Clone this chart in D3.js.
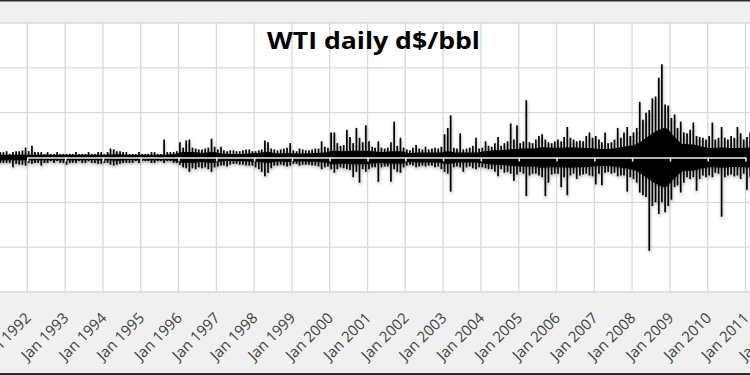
<!DOCTYPE html>
<meta charset="utf-8">
<style>
  body {
    margin: 0;
    font-family: "Open Sans", sans-serif;
  }
  .grid line {
    stroke: #d9d9d9;
    stroke-width: 1.3px;
  }
  .zero .domain, .zero .tick line {
    stroke: #f2f2f2;
    stroke-width: 1.5px;
  }
  .labels .domain, .labels .tick line {
    display: none;
  }
  .labels text {
    font-family: "Open Sans", sans-serif;
    font-size: 15px;
    fill: #404040;
  }
  .title {
    font-family: "Open Sans", sans-serif;
    font-size: 24px;
    font-weight: bold;
    fill: #000;
  }
  .move {
    stroke: #000;
    stroke-width: 1.7px;
  }
  .core {
    fill: #000;
  }
</style>
<body>
<div id="chart"></div>
<script src="https://d3js.org/d3.v7.min.js"></script>
<script>
// biggest up move of each month, $/bbl (Jan 1991 .. Mar 2011), one row per year
var upMoves = [
  2.2,1.7,0.9,0.6,0.6,0.7,0.4,0.6,0.7,0.7,0.8,1.1,   // 1991
  0.7,1.3,0.6,0.6,0.6,0.4,0.6,0.4,0.4,0.6,0.4,0.4,   // 1992
  0.4,0.4,0.4,0.6,0.4,0.4,0.4,0.6,0.4,0.4,0.6,0.6,   // 1993
  0.4,0.6,1.0,0.9,0.7,0.7,0.6,0.6,0.4,0.4,0.4,0.6,   // 1994
  0.4,0.4,0.4,0.6,0.6,0.4,0.4,2.0,0.6,0.6,0.6,0.7,   // 1995
  1.7,1.1,1.9,2.0,1.1,1.0,0.9,0.9,1.0,1.1,2.1,1.2,   // 1996
  0.9,1.2,0.8,0.7,0.8,0.8,0.7,0.7,0.8,0.9,0.9,0.7,   // 1997
  0.7,0.8,0.9,1.9,1.7,1.0,0.9,0.8,0.9,1.0,1.1,1.6,   // 1998
  0.8,0.7,1.0,0.9,0.8,0.8,0.9,1.0,1.0,1.8,1.2,1.1,   // 1999
  2.8,2.8,1.6,1.3,1.4,3.1,2.3,1.6,3.3,2.2,1.7,3.6,   // 2000
  1.8,1.2,1.1,1.8,1.1,1.0,1.1,1.7,4.0,1.3,2.2,1.1,   // 2001
  0.9,0.8,1.1,1.4,1.0,0.9,1.2,0.9,1.0,1.1,1.0,1.2,   // 2002
  2.6,3.3,4.7,1.1,1.0,2.7,0.9,1.0,1.1,1.3,2.2,1.0,   // 2003
  1.1,1.8,1.3,1.2,1.6,2.3,1.3,1.6,1.8,3.8,2.0,3.6,   // 2004
  1.6,1.8,6.4,1.7,1.6,2.0,2.4,2.6,2.0,1.7,1.6,1.8,   // 2005
  2.0,1.8,2.3,3.4,2.2,2.0,1.8,1.9,1.8,2.4,2.8,2.2,   // 2006
  2.4,2.0,1.7,2.8,1.6,1.7,2.0,3.3,2.2,2.8,3.4,2.4,   // 2007
  2.8,3.3,6.2,4.2,5.0,5.3,6.6,6.8,8.9,10.4,5.9,5.8,  // 2008
  4.4,4.8,3.3,4.0,2.8,2.7,3.1,3.9,2.4,2.3,2.2,2.0,   // 2009
  2.4,3.9,2.0,2.2,3.4,2.2,2.0,2.4,2.2,3.4,2.7,2.0,   // 2010
  2.3,2.8,3.3                                        // 2011
];

// biggest down move of each month, $/bbl
var downMoves = [
  -9.0,-2.2,-1.1,-0.6,-0.6,-0.6,-0.6,-1.1,-0.7,-0.8,-0.8,-0.9,  // 1991
  -0.6,-0.7,-0.6,-0.6,-0.9,-0.6,-0.6,-0.4,-0.6,-0.4,-0.6,-0.6,  // 1992
  -0.8,-0.6,-0.6,-0.6,-0.4,-0.6,-0.6,-0.4,-0.6,-0.6,-0.7,-0.7,  // 1993
  -0.6,-0.6,-0.8,-0.9,-0.8,-0.7,-0.6,-0.6,-0.6,-0.6,-0.4,-0.6,  // 1994
  -0.4,-0.4,-0.4,-0.6,-0.6,-0.4,-0.4,-0.6,-0.4,-0.4,-0.6,-0.6,  // 1995
  -0.8,-1.1,-1.2,-1.6,-1.2,-1.3,-1.1,-1.2,-1.1,-1.3,-1.6,-1.1,  // 1996
  -1.0,-0.9,-0.9,-1.0,-0.8,-0.7,-0.7,-0.8,-0.8,-0.9,-0.9,-0.9,  // 1997
  -1.1,-1.3,-1.6,-2.1,-1.7,-1.2,-0.9,-0.9,-0.8,-0.9,-1.0,-0.9,  // 1998
  -0.7,-0.7,-0.9,-0.8,-0.8,-0.8,-0.9,-0.9,-1.0,-1.3,-1.1,-1.0,  // 1999
  -1.3,-1.7,-1.3,-1.1,-1.2,-1.3,-1.4,-2.2,-1.6,-2.8,-1.3,-1.6,  // 2000
  -1.3,-1.1,-1.1,-2.7,-1.1,-1.0,-1.0,-2.7,-1.3,-1.6,-1.7,-1.1,  // 2001
  -0.9,-0.8,-0.9,-1.1,-1.0,-0.9,-1.0,-0.9,-0.9,-1.1,-1.0,-1.3,  // 2002
  -1.6,-1.8,-3.8,-1.1,-1.0,-1.1,-1.6,-1.1,-1.0,-1.2,-1.3,-1.1,  // 2003
  -1.1,-1.2,-1.3,-1.3,-1.6,-2.1,-1.3,-1.7,-1.6,-1.8,-2.6,-1.9,  // 2004
  -1.6,-1.8,-4.3,-2.0,-1.8,-1.8,-2.0,-2.2,-4.3,-2.8,-1.9,-1.8,  // 2005
  -1.8,-3.3,-2.2,-4.2,-2.0,-1.8,-2.4,-2.0,-1.9,-1.8,-2.0,-2.1,  // 2006
  -3.0,-1.8,-3.1,-1.7,-1.6,-1.8,-1.7,-2.1,-2.0,-2.0,-3.8,-2.2,  // 2007
  -2.4,-2.8,-3.9,-4.2,-4.4,-10.4,-5.4,-5.0,-6.3,-5.0,-6.1,-5.4, // 2008
  -4.7,-3.3,-3.1,-3.9,-2.8,-2.2,-2.4,-2.2,-3.7,-2.4,-2.0,-2.2,  // 2009
  -2.0,-2.2,-1.7,-1.8,-6.6,-2.2,-2.0,-1.9,-2.1,-2.0,-2.4,-1.8,  // 2010
  -3.6,-2.2,-3.3                                               // 2011
];

// typical size of a daily move in each quarter (the dense black band), $/bbl
var typicalMove = [
  0.5,0.3,0.3,0.3,  // 1991
  0.3,0.3,0.3,0.3,  // 1992
  0.3,0.3,0.3,0.3,  // 1993
  0.3,0.35,0.3,0.3, // 1994
  0.3,0.3,0.3,0.35, // 1995
  0.6,0.6,0.5,0.6,  // 1996
  0.45,0.4,0.4,0.45,// 1997
  0.5,0.6,0.45,0.5, // 1998
  0.45,0.45,0.5,0.55,// 1999
  0.75,0.7,0.75,0.75,// 2000
  0.7,0.6,0.7,0.7,  // 2001
  0.5,0.55,0.55,0.55,// 2002
  0.7,0.55,0.55,0.55,// 2003
  0.7,0.8,0.85,0.95,// 2004
  1.0,1.0,1.15,1.1, // 2005
  1.1,1.15,1.1,1.05,// 2006
  0.95,0.95,1.1,1.25,// 2007
  1.5,2.2,2.9,3.3,  // 2008
  2.3,1.5,1.45,1.2, // 2009
  1.05,1.15,1.05,1.05,// 2010
  1.15              // 2011
];

var yTicks = [-15, -10, -5, 0, 5, 10, 15];
var titleText = "WTI daily d$/bbl";

//Margin conventions (plot area is cut off at both sides like the original)
var width = 750, height = 375;
var plotTop = 23, plotBottom = 292;

var svg = d3.select("#chart").append("svg")
  .attr("width", width)
  .attr("height", height);

// drop shadow like the excel series effect
var defs = svg.append("defs");
defs.append("filter")
  .attr("id", "shadow")
  .attr("x", "-5%").attr("y", "-20%")
  .attr("width", "110%").attr("height", "140%")
  .append("feDropShadow")
  .attr("dx", 0.5)
  .attr("dy", 2)
  .attr("stdDeviation", 1.5)
  .attr("flood-color", "#000")
  .attr("flood-opacity", 0.35);

//chart area and plot area
svg.append("rect")
  .attr("width", width).attr("height", height)
  .attr("fill", "#f0f0f0");
svg.append("rect")
  .attr("x", 0).attr("y", plotTop)
  .attr("width", width).attr("height", plotBottom - plotTop)
  .attr("fill", "#fff");

//Scales
var xScale = d3.scaleTime()
  .domain([new Date(1992, 0, 1), new Date(2011, 0, 1)])
  .range([27.3, 745.5]);

var yScale = d3.scaleLinear()
  .domain([-15, 15])
  .range([plotBottom, plotTop]);

var yearTicks = d3.timeYear.range(new Date(1991, 0, 1), new Date(2013, 0, 1));

//gridlines
var grid = svg.append("g").attr("class", "grid");
grid.selectAll("line.v")
  .data(yearTicks)
  .enter().append("line")
  .attr("class", "v")
  .attr("x1", function(d) { return xScale(d); })
  .attr("x2", function(d) { return xScale(d); })
  .attr("y1", plotTop)
  .attr("y2", plotBottom);
grid.selectAll("line.h")
  .data(yTicks.filter(function(d) { return d != 0; }))
  .enter().append("line")
  .attr("class", "h")
  .attr("x1", 0)
  .attr("x2", width)
  .attr("y1", function(d) { return yScale(d); })
  .attr("y2", function(d) { return yScale(d); });

//months and quarters
var months = d3.timeMonth.range(new Date(1991, 0, 1), new Date(1991, upMoves.length, 1));
var quarters = d3.timeMonth.every(3).range(new Date(1991, 0, 1), new Date(1991, typicalMove.length * 3, 1));

var data = months.map(function(m, i) {
  return { date: new Date(m.getFullYear(), m.getMonth(), 15), up: upMoves[i], down: downMoves[i] };
});
var coreData = quarters.map(function(q, i) {
  return { date: new Date(q.getFullYear(), q.getMonth() + 1, 15), v: typicalMove[i] };
});

var series = svg.append("g")
  .attr("class", "series")
  .attr("filter", "url(#shadow)");

var core = d3.area()
  .curve(d3.curveMonotoneX)
  .x(function(d) { return xScale(d.date); })
  .y0(function(d) { return yScale(-d.v); })
  .y1(function(d) { return yScale(d.v); });

series.append("path")
  .datum(coreData)
  .attr("class", "core")
  .attr("d", core);

series.selectAll("line.move")
  .data(data)
  .enter().append("line")
  .attr("class", "move")
  .attr("x1", function(d) { return xScale(d.date); })
  .attr("x2", function(d) { return xScale(d.date); })
  .attr("y1", function(d) { return yScale(d.down); })
  .attr("y2", function(d) { return yScale(d.up); });

//horizontal axis through zero, drawn on top of the bars
var zeroAxis = d3.axisBottom(xScale)
  .tickValues(yearTicks)
  .tickSize(4)
  .tickSizeOuter(0)
  .tickFormat("");
svg.append("g")
  .attr("class", "zero")
  .attr("transform", "translate(0," + yScale(0) + ")")
  .call(zeroAxis);

//rotated date labels under the plot (Jan 1991 falls outside the crop)
var labelAxis = d3.axisBottom(xScale)
  .tickValues(yearTicks.slice(1))
  .tickSize(0)
  .tickFormat(d3.timeFormat("Jan %Y"));
var labels = svg.append("g")
  .attr("class", "labels")
  .attr("transform", "translate(0," + plotBottom + ")")
  .call(labelAxis);
labels.selectAll("text")
  .attr("x", 0)
  .attr("y", 0)
  .attr("dy", 0)
  .attr("text-anchor", "end")
  .attr("transform", "translate(4,27) rotate(-45)");

//title
svg.append("text")
  .attr("class", "title")
  .attr("x", 373.5)
  .attr("y", 49)
  .attr("text-anchor", "middle")
  .attr("textLength", 213)
  .attr("lengthAdjust", "spacingAndGlyphs")
  .text(titleText);

//frame lines top and bottom
svg.append("rect").attr("x", 0).attr("y", 0).attr("width", width).attr("height", 1.5).attr("fill", "#2b2b2b");
svg.append("rect").attr("x", 0).attr("y", height - 2).attr("width", width).attr("height", 2).attr("fill", "#2b2b2b");
</script>
</body>
